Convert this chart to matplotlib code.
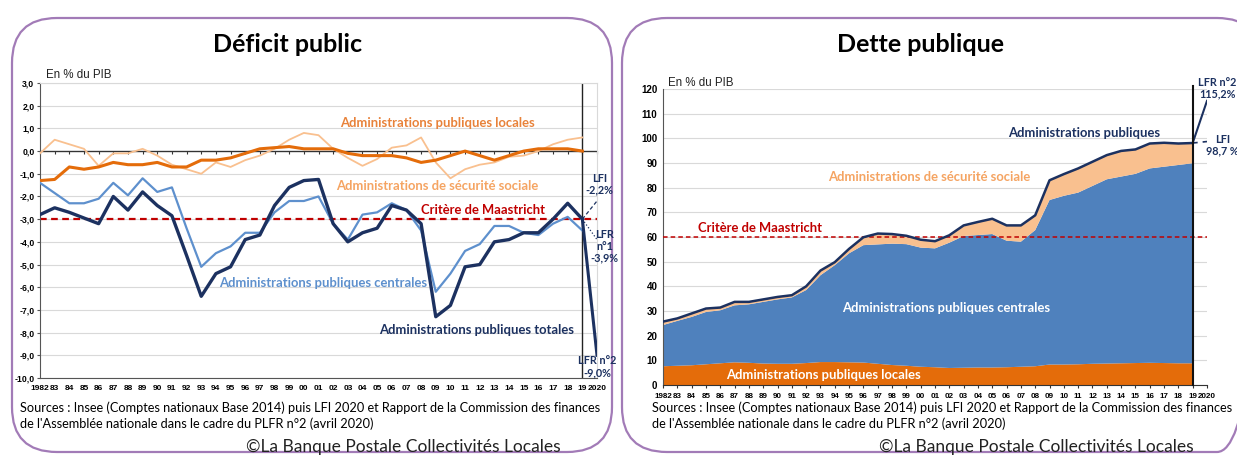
import matplotlib
matplotlib.use('Agg')
import matplotlib.pyplot as plt
import numpy as np
from matplotlib.patches import FancyBboxPatch

W, H = 1237, 455

years = list(range(1982, 2020))
tick_years = years + [2020]
year_labels = ['1982', '83', '84', '85', '86', '87', '88', '89', '90', '91', '92', '93', '94',
               '95', '96', '97', '98', '99', '00', '01', '02', '03', '04', '05', '06', '07',
               '08', '09', '10', '11', '12', '13', '14', '15', '16', '17', '18', '19', '2020']

# deficit, % of GDP (1982-2019)
apu_totales = [-2.8, -2.5, -2.7, -2.95, -3.2, -2.0, -2.6, -1.8, -2.4, -2.85,
               -4.6, -6.4, -5.4, -5.1, -3.9, -3.7, -2.4, -1.6, -1.3, -1.25,
               -3.2, -4.0, -3.6, -3.4, -2.4, -2.6, -3.2, -7.3, -6.8, -5.1,
               -5.0, -4.0, -3.9, -3.6, -3.6, -3.0, -2.3, -3.0]
apu_centrales = [-1.4, -1.85, -2.3, -2.3, -2.1, -1.4, -1.95, -1.2, -1.8, -1.6,
                 -3.4, -5.1, -4.5, -4.2, -3.6, -3.6, -2.7, -2.2, -2.2, -2.0,
                 -3.2, -3.9, -2.8, -2.7, -2.3, -2.6, -3.5, -6.2, -5.4, -4.4,
                 -4.1, -3.3, -3.3, -3.6, -3.7, -3.2, -2.9, -3.5]
apu_locales = [-1.3, -1.25, -0.7, -0.8, -0.7, -0.5, -0.6, -0.6, -0.5, -0.7,
               -0.7, -0.4, -0.4, -0.3, -0.1, 0.1, 0.15, 0.2, 0.1, 0.1,
               0.1, -0.1, -0.2, -0.2, -0.2, -0.3, -0.5, -0.4, -0.2, 0.0,
               -0.2, -0.4, -0.2, 0.0, 0.1, 0.1, 0.1, 0.0]
asso = [-0.1, 0.5, 0.3, 0.1, -0.65, -0.1, -0.1, 0.1, -0.2, -0.6,
        -0.8, -1.0, -0.5, -0.7, -0.4, -0.2, 0.1, 0.5, 0.8, 0.7,
        0.1, -0.3, -0.65, -0.35, 0.15, 0.25, 0.6, -0.5, -1.2, -0.8,
        -0.6, -0.5, -0.25, -0.2, 0.0, 0.3, 0.5, 0.6]
deficit_lfi, deficit_lfr1, deficit_lfr2 = -2.2, -3.9, -9.0
maastricht_deficit = -3.0

# debt, % of GDP (1982-2019)
dette_locales = [7.6, 7.8, 8.0, 8.4, 8.8, 9.2, 9.0, 8.7, 8.6, 8.6,
                 8.9, 9.3, 9.3, 9.2, 9.1, 8.6, 8.1, 7.8, 7.4, 7.2,
                 6.9, 7.0, 7.1, 7.1, 7.2, 7.4, 7.6, 8.3, 8.3, 8.4,
                 8.6, 8.7, 8.8, 8.9, 9.0, 8.9, 8.8, 8.8]
dette_centrales = [16.7, 18.2, 19.6, 21.2, 21.5, 23.1, 23.7, 25.0, 26.1, 26.9,
                   29.6, 35.2, 39.3, 44.2, 47.6, 48.4, 49.2, 49.3, 48.3, 48.2,
                   50.8, 53.4, 53.7, 54.1, 51.3, 50.7, 55.2, 66.7, 68.4, 69.6,
                   72.1, 74.7, 75.7, 76.7, 78.8, 79.6, 80.4, 81.1]
dette_secu = [1.4, 1.0, 1.4, 1.4, 1.1, 1.4, 1.0, 1.0, 1.0, 0.9,
              1.5, 1.9, 1.2, 1.8, 3.2, 4.4, 3.9, 3.4, 3.2, 2.9,
              3.0, 4.3, 5.3, 6.2, 6.2, 6.6, 6.0, 8.0, 8.8, 9.8,
              9.8, 9.8, 10.4, 9.9, 10.1, 9.7, 8.7, 8.2]
dette_lfi, dette_lfr2 = 98.7, 115.2
maastricht_dette = 60

NAVY = '#1c3160'
ORANGE = '#e46c0a'
PEACH = '#f9c08f'
LBLUE = '#5e90cd'
BLUE = '#4f81bd'
RED = '#c00000'
GRID = '#d9d9d9'
CAL = ['Lato', 'DejaVu Sans']
ARIAL = ['Liberation Sans', 'DejaVu Sans']

fig = plt.figure(figsize=(W / 100, H / 100), dpi=100)

# rounded frames
bg = fig.add_axes([0, 0, 1, 1])
bg.set_xlim(0, W)
bg.set_ylim(H, 0)
bg.axis('off')
for x0, x1 in ((12, 612), (622, 1262)):
    bg.add_patch(FancyBboxPatch((x0, 18), x1 - x0, 434,
                                boxstyle='round,pad=0,rounding_size=45',
                                fill=False, edgecolor='#a27bb7', linewidth=1.6))


def ftext(x, y, s, **kw):
    fig.text(x / W, 1 - y / H, s, **kw)


# ---------------- Déficit public ----------------
ax1 = fig.add_axes([40 / W, 1 - 378 / H, 557 / W, 295 / H])
ax1.set_facecolor('none')
ax1.set_xlim(1982, 2020)
ax1.set_ylim(-10, 3)
yt = list(range(-10, 4))
ax1.set_yticks(yt)
ax1.set_yticklabels([f'{v:.1f}'.replace('.', ',') for v in yt],
                    fontfamily=ARIAL, fontweight='bold', fontsize=6.2)
ax1.set_xticks(tick_years)
ax1.set_xticklabels(year_labels, fontfamily=ARIAL, fontweight='bold', fontsize=6)
ax1.tick_params(axis='x', length=0, pad=5)
ax1.tick_params(axis='y', length=2, pad=2, color='#555555')
ax1.grid(axis='y', color=GRID, lw=0.8)
ax1.set_axisbelow(True)
for side in ('top', 'right'):
    ax1.spines[side].set_color(GRID)
ax1.spines['left'].set_color('#555555')
ax1.spines['bottom'].set_color('#555555')

ax1.axhline(0, color='#333333', lw=0.9, zorder=1)
zero_axis = ax1.secondary_xaxis(0, transform=ax1.transData)
zero_axis.set_xticks(tick_years)
zero_axis.tick_params(length=2.5, labelbottom=False, color='#333333')
zero_axis.spines['bottom'].set_color('#333333')

ax1.axhline(maastricht_deficit, color=RED, lw=1.6, ls=(0, (3, 2)), zorder=2)
ax1.axvline(2019, color='#222222', lw=1.0, zorder=2)

ax1.plot(years, asso, color=PEACH, lw=1.3, zorder=3)
ax1.plot(years, apu_locales, color=ORANGE, lw=2.2, zorder=3)
ax1.plot(years, apu_centrales, color=LBLUE, lw=1.6, zorder=4)
ax1.plot(years, apu_totales, color=NAVY, lw=2.4, zorder=5, solid_joinstyle='round')
ax1.plot([2019, 2020], [apu_totales[-1], deficit_lfr2], color=NAVY, lw=2.2, zorder=5)
ax1.plot([2019, 2020], [apu_totales[-1], deficit_lfi], color=NAVY, lw=0.9, ls=(0, (3, 2)), zorder=5)
ax1.plot([2019, 2020], [apu_totales[-1], deficit_lfr1], color=NAVY, lw=0.9, ls=':', zorder=5)

lab = dict(fontfamily=CAL, fontweight='bold', fontsize=9.4, ha='center', va='center')
ax1.text(2009.1, 1.23, 'Administrations publiques locales', color='#e8823a', **lab)
ax1.text(2009.1, -1.54, 'Administrations de sécurité sociale', color='#f5a462', **lab)
ax1.text(2012.2, -2.6, 'Critère de Maastricht', color=RED, **lab)
ax1.text(2001.3, -5.8, 'Administrations publiques centrales', color=LBLUE, **lab)
ax1.text(2011.8, -7.9, 'Administrations publiques totales', color=NAVY, **lab)
small = dict(fontfamily=CAL, fontweight='bold', fontsize=7.8, color=NAVY, ha='center', va='center',
             linespacing=1.1, clip_on=False)
ax1.text(2020.15, -1.45, 'LFI\n-2,2%', **small)
ax1.text(2020.5, -4.2, 'LFR\nn°1\n-3,9%', **small)
ax1.text(2020.0, -9.5, 'LFR n°2\n-9,0%', **small)

ftext(46, 75, 'En % du PIB', fontfamily=ARIAL, fontsize=8.3, ha='left', va='center', color='#222222')
ftext(288, 44, 'Déficit public', fontfamily=CAL, fontweight='bold', fontsize=18, ha='center', va='center')

# ---------------- Dette publique ----------------
ax2 = fig.add_axes([663 / W, 1 - 385 / H, 544 / W, 296 / H])
ax2.set_facecolor('none')
ax2.set_xlim(1982, 2020)
ax2.set_ylim(0, 120)
ax2.set_yticks(range(0, 121, 10))
ax2.set_yticklabels([str(v) for v in range(0, 121, 10)],
                    fontfamily=ARIAL, fontweight='bold', fontsize=7)
ax2.set_xticks(tick_years)
ax2.set_xticklabels(year_labels, fontfamily=ARIAL, fontweight='bold', fontsize=5.8)
ax2.tick_params(axis='x', length=2.5, pad=3, color='#333333')
ax2.tick_params(axis='y', length=0, pad=4)
ax2.grid(axis='y', color=GRID, lw=0.8)
ax2.set_axisbelow(True)
for side in ('top', 'right'):
    ax2.spines[side].set_visible(False)
ax2.spines['left'].set_color('#555555')
ax2.spines['bottom'].set_color('#333333')

ax2.stackplot(years, dette_locales, dette_centrales, dette_secu,
              colors=[ORANGE, BLUE, PEACH], lw=0, zorder=2)
dette_totale = np.array(dette_locales) + np.array(dette_centrales) + np.array(dette_secu)
ax2.plot(years, dette_totale, color=NAVY, lw=1.8, zorder=4)
ax2.plot([2019, 2020], [dette_totale[-1], dette_lfr2], color=NAVY, lw=1.5, zorder=4)
ax2.plot([2019, 2020], [dette_totale[-1], dette_lfi], color=NAVY, lw=1.2, ls=(0, (3, 3)), zorder=4)
ax2.axhline(maastricht_dette, color=RED, lw=1.1, ls=(0, (3, 2)), zorder=3)
ax2.axvline(2019, ymax=1.01, color='#111111', lw=1.5, zorder=5, clip_on=False)

ax2.text(2011.4, 102.1, 'Administrations publiques', color=NAVY, **lab)
ax2.text(2000.6, 84.3, 'Administrations de sécurité sociale', color='#f5a462', **lab)
ax2.text(1988.8, 63.6, 'Critère de Maastricht', color=RED, **lab)
ax2.text(2001.8, 31.2, 'Administrations publiques centrales', color='white', **lab)
ax2.text(1993.2, 4.1, 'Administrations publiques locales', color='white', **lab)
ax2.text(2020.7, 120.4, 'LFR n°2\n115,2%', **small)
ax2.text(2021.1, 97.3, 'LFI\n98,7 %', **small)

ftext(668, 83, 'En % du PIB', fontfamily=ARIAL, fontsize=8.3, ha='left', va='center', color='#222222')
ftext(920, 44, 'Dette publique', fontfamily=CAL, fontweight='bold', fontsize=18, ha='center', va='center')

# ---------------- sources ----------------
src1 = 'Sources : Insee (Comptes nationaux Base 2014) puis LFI 2020 et Rapport de la Commission des finances'
src2 = "de l'Assemblée nationale dans le cadre du PLFR n°2 (avril 2020)"
for x0 in (20, 652):
    ftext(x0, 408, src1, fontfamily=CAL, fontsize=9.2, ha='left', va='center')
    ftext(x0, 424, src2, fontfamily=CAL, fontsize=9.2, ha='left', va='center')
ftext(403, 447, '©La Banque Postale Collectivités Locales', fontfamily=CAL, fontsize=12.5,
      ha='center', va='center', color='#222222')
ftext(1036, 447, '©La Banque Postale Collectivités Locales', fontfamily=CAL, fontsize=12.5,
      ha='center', va='center', color='#222222')

fig.savefig('out.png', dpi=100)
